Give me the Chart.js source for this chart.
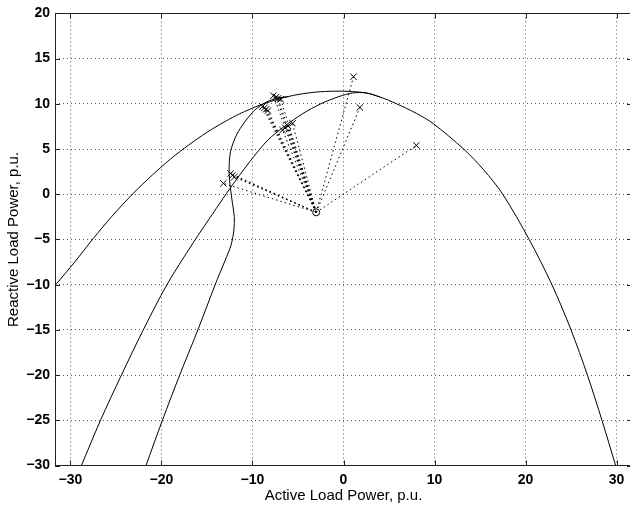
<!DOCTYPE html>
<html>
<head>
<meta charset="utf-8">
<script src="https://cdn.jsdelivr.net/npm/chart.js@4.4.1/dist/chart.umd.min.js"></script>
<style>
    html, body { margin: 0; padding: 0; background: #fff; overflow: hidden; }
    #contenedor { width: 640px; height: 508px; }
</style>
</head>
<body>
<div id="contenedor"><canvas id="graficoCarga" width="640" height="508"></canvas></div>
<script>
// curva exterior
const curvaA_P = [-31.7, -29.5, -27.5, -25.5, -23.1, -21.0, -19.0, -17.0, -15.0, -13.0, -11.4, -9.2, -7.0, -5.0, -3.0, -1.0, 0.5, 2.5, 4.0, 5.84, 8.0, 9.85, 13.2, 15.4, 17.5, 20.4, 22.9, 25.0, 26.8, 28.4, 29.9];
const curvaA_Q = [-10.1, -7.45, -4.9, -2.5, 0.1, 2.13, 3.9, 5.45, 6.85, 8.05, 8.9, 9.85, 10.57, 11.03, 11.3, 11.4, 11.38, 11.2, 10.76, 10.0, 8.95, 7.82, 5.0, 2.7, 0.0, -5.0, -10.0, -15.0, -20.0, -25.0, -30.0];

// curva diagonal
const curvaB_P = [-28.8, -26.7, -24.4, -22.0, -19.4, -16.6, -14.0, -12.5, -10.3, -8.3, -6.5, -4.5, -2.5, -0.5, 1.0, 2.5, 4.0];
const curvaB_Q = [-30, -25, -20, -15, -10, -5.5, -1.6, 0.6, 3.6, 6.0, 7.5, 8.9, 10.0, 10.8, 11.2, 11.2, 10.76];

// curva con quiebre
const curvaC_P = [-21.7, -19.9, -18.0, -16.0, -14.1, -13.0, -12.35, -12.05, -12.0, -12.2, -12.42, -12.57, -12.42, -11.76, -10.85, -9.75, -8.46, -7.2, -6.0];
const curvaC_Q = [-30, -25, -20, -15, -10, -7.3, -5.6, -4.0, -2.5, -1.0, 0.66, 2.5, 4.7, 6.54, 8.0, 9.3, 10.2, 10.65, 10.8];

// puntos x
const marcasP = [1.1, 1.8, 8.0, -7.7, -7.4, -7.2, -6.9, -8.9, -8.7, -8.5, -8.3, -6.7, -6.4, -6.1, -5.6, -12.4, -12.2, -12.0, -13.2];
const marcasQ = [13.0, 9.6, 5.4, 10.9, 10.75, 10.6, 10.5, 9.7, 9.55, 9.4, 9.25, 7.1, 7.35, 7.55, 7.85, 2.3, 2.1, 1.9, 1.2];

// punto de operacion
const origenP = -3.0;
const origenQ = -2.0;

const ticksP = [-30, -20, -10, 0, 10, 20, 30];
const ticksQ = [-30, -25, -20, -15, -10, -5, 0, 5, 10, 15, 20];

const pares = (xs, ys) => xs.map((x, i) => ({ x: x, y: ys[i] }));
const menos = v => (v < 0 ? '\u2212' + Math.abs(v) : String(v));

const curva = (xs, ys) => ({
    data: pares(xs, ys),
    showLine: true,
    borderColor: '#000',
    borderWidth: 1,
    pointRadius: 0,
    tension: 0.3
});

// lineas punteadas desde el origen
const rayos = marcasP.map((p, i) => ({
    data: [{ x: origenP, y: origenQ }, { x: p, y: marcasQ[i] }],
    showLine: true,
    borderColor: '#000',
    borderWidth: 1,
    borderDash: [1.5, 3],
    pointRadius: 0
}));

// ticks hacia dentro y marco
const marcoEjes = {
    id: 'marcoEjes',
    afterDraw(chart) {
        const { ctx, chartArea: a, scales } = chart;
        ctx.save();
        ctx.strokeStyle = '#222';
        ctx.lineWidth = 1;
        ctx.beginPath();
        scales.x.ticks.forEach(t => {
            const px = Math.round(scales.x.getPixelForValue(t.value)) + 0.5;
            ctx.moveTo(px, a.bottom); ctx.lineTo(px, a.bottom - 5);
            ctx.moveTo(px, a.top); ctx.lineTo(px, a.top + 5);
        });
        scales.y.ticks.forEach(t => {
            const py = Math.round(scales.y.getPixelForValue(t.value)) + 0.5;
            ctx.moveTo(a.left, py); ctx.lineTo(a.left + 5, py);
            ctx.moveTo(a.right, py); ctx.lineTo(a.right - 5, py);
        });
        ctx.rect(Math.round(a.left) + 0.5, Math.round(a.top) + 0.5, Math.round(a.right - a.left), Math.round(a.bottom - a.top));
        ctx.stroke();
        ctx.restore();
    }
};

Chart.defaults.color = '#000';
Chart.defaults.font.family = "'Liberation Sans', Arial, sans-serif";

const ctx = document.getElementById('graficoCarga');

new Chart(ctx, {
    type: 'scatter',
    data: {
        datasets: [
            curva(curvaA_P, curvaA_Q),
            curva(curvaB_P, curvaB_Q),
            curva(curvaC_P, curvaC_Q),
            ...rayos,
            {
                data: pares(marcasP, marcasQ),
                pointStyle: 'crossRot',
                pointRadius: 4.5,
                borderColor: '#000',
                borderWidth: 1
            },
            {
                data: [{ x: origenP, y: origenQ }],
                pointStyle: 'circle',
                pointRadius: 3.5,
                backgroundColor: 'rgba(0,0,0,0)',
                borderColor: '#000',
                borderWidth: 1
            },
            {
                data: [{ x: origenP, y: origenQ }],
                pointStyle: 'circle',
                pointRadius: 0.8,
                backgroundColor: '#000',
                borderWidth: 0
            }
        ]
    },
    options: {
        responsive: false,
        animation: false,
        layout: { padding: { top: 11, right: 8, left: 0, bottom: 0 } },
        plugins: {
            legend: { display: false },
            tooltip: { enabled: false }
        },
        scales: {
            x: {
                type: 'linear',
                min: -31.7,
                max: 31.7,
                afterBuildTicks: s => { s.ticks = ticksP.map(v => ({ value: v })); },
                afterFit: s => { s.height = 42.5; },
                grid: { color: '#555', lineWidth: 1, drawTicks: false },
                border: { display: false, dash: [1, 3] },
                ticks: { padding: 6, font: { size: 14, weight: 'bold' }, callback: menos, maxRotation: 0 },
                title: { display: true, text: 'Active Load Power, p.u.', font: { size: 15 }, padding: { top: 0, bottom: 3 } }
            },
            y: {
                type: 'linear',
                min: -30,
                max: 20,
                afterBuildTicks: s => { s.ticks = ticksQ.map(v => ({ value: v })); },
                afterFit: s => { s.width = 55; },
                grid: { color: '#555', lineWidth: 1, drawTicks: false },
                border: { display: false, dash: [1, 3] },
                ticks: { padding: 5, font: { size: 14, weight: 'bold' }, callback: menos },
                title: { display: true, text: 'Reactive Load Power, p.u.', font: { size: 15 }, padding: { top: 5, bottom: 0 } }
            }
        }
    },
    plugins: [marcoEjes]
});
</script>
</body>
</html>
